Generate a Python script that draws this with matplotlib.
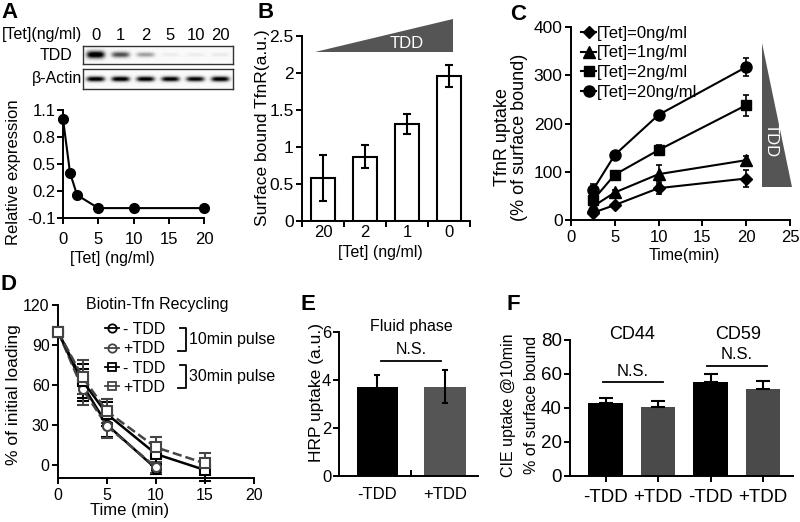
import numpy as np
import matplotlib
matplotlib.use('Agg')
import matplotlib.pyplot as plt
from matplotlib.patches import Polygon
from matplotlib.lines import Line2D
import matplotlib.transforms as mtransforms

plt.rcParams['font.family'] = ['Liberation Sans', 'DejaVu Sans']

# ---------------- data ----------------
# Panel A (blot + quantification)
blot_lanes = ['0', '1', '2', '5', '10', '20']
tdd_band = [1.0, 0.6, 0.32, 0.05, 0.05, 0.06]
actin_band = [0.95, 0.95, 0.93, 0.92, 0.9, 0.95]
tet_conc = [0, 1, 2, 5, 10, 20]
rel_expr = [1.0, 0.4, 0.155, 0.01, 0.01, 0.01]

# Panel B
b_labels = ['20', '2', '1', '0']
b_values = [0.58, 0.87, 1.31, 1.96]
b_err = [0.31, 0.16, 0.13, 0.145]

# Panel C
c_time = [2.5, 5, 10, 20]
c_labels = ['[Tet]=0ng/ml', '[Tet]=1ng/ml', '[Tet]=2ng/ml', '[Tet]=20ng/ml']
c_0ng = [15, 31, 66, 86]
c_0ng_err = [5, 5, 12, 18]
c_1ng = [28, 57, 95, 124]
c_1ng_err = [8, 6, 20, 8]
c_2ng = [41, 94, 145, 238]
c_2ng_err = [8, 8, 10, 22]
c_20ng = [62, 135, 218, 317]
c_20ng_err = [12, 6, 6, 18]

# Panel D
d_time_10 = [0, 2.5, 5, 10]
d_time_30 = [0, 2.5, 5, 10, 15]
d_minus10 = [100, 60, 30, -3]
d_minus10_err = [0, 12, 9, 4]
d_plus10 = [100, 57, 29, -2]
d_plus10_err = [0, 12, 9, 4]
d_minus30 = [100, 63, 38, 8, -4]
d_minus30_err = [0, 13, 9, 8, 8]
d_plus30 = [100, 66, 40, 13, 1]
d_plus30_err = [0, 13, 9, 8, 8]

# Panel E
e_labels = ['-TDD', '+TDD']
e_values = [3.70, 3.72]
e_err = [0.5, 0.68]

# Panel F
f_labels = ['-TDD', '+TDD', '-TDD', '+TDD']
f_groups = ['CD44', 'CD59']
f_values = [43.1, 40.8, 55.5, 51.2]
f_err = [3.0, 3.5, 4.5, 4.7]

# ---------------- helpers ----------------
W, H = 800, 522
fig = plt.figure(figsize=(W / 100, H / 100), dpi=100)


def rect(l, t, r, b):
    return [l / W, 1 - b / H, (r - l) / W, (b - t) / H]


def P(x, y):
    return (x / W, 1 - y / H)


def T(x, y, s, **kw):
    kw.setdefault('ha', 'center')
    kw.setdefault('va', 'center')
    kw.setdefault('fontsize', 12)
    fig.text(x / W, 1 - y / H, s, **kw)


def style(ax, size=12, xpad=4, ypad=2):
    for sp in ['top', 'right']:
        ax.spines[sp].set_visible(False)
    for sp in ['left', 'bottom']:
        ax.spines[sp].set_linewidth(1.4)
    ax.tick_params(width=1.4, length=4, labelsize=size)
    ax.tick_params(axis='x', pad=xpad)
    ax.tick_params(axis='y', pad=ypad)
    ax.patch.set_alpha(0)


ebkw = dict(ecolor='k', elinewidth=1.5, capthick=1.5)

# ---------------- Panel A blot ----------------
xs = np.linspace(0, 6, 300)
ys = np.linspace(0, 1, 40)
X, Y = np.meshgrid(xs, ys)


def blot_image(intens, ycen, base_sig):
    img = np.zeros_like(X)
    for i, v in enumerate(intens):
        xp = np.exp(-((X - (i + 0.5)) / 0.36) ** 4)
        sig = base_sig * (0.6 + 0.6 * v)
        yp = np.exp(-((Y - ycen) / sig) ** 2)
        img += v * xp * yp
    return np.clip(img * 1.15 + 0.02, 0, 1)


axT = fig.add_axes(rect(83, 46, 233, 64))
axT.imshow(blot_image(tdd_band, 0.52, 0.17), cmap='gray_r', vmin=0, vmax=1,
           extent=(0, 6, 0, 1), aspect='auto', origin='lower')
axAc = fig.add_axes(rect(83, 69, 233, 89))
axAc.imshow(blot_image(actin_band, 0.5, 0.11), cmap='gray_r', vmin=0, vmax=1,
            extent=(0, 6, 0, 1), aspect='auto', origin='lower')
for a in (axT, axAc):
    a.set_xticks([])
    a.set_yticks([])
    for sp in a.spines.values():
        sp.set_linewidth(1.0)
        sp.set_color('#333333')
btr = mtransforms.blended_transform_factory(axT.transData, fig.transFigure)
for i, lab in enumerate(blot_lanes):
    axT.text(i + 0.5, 1 - 35 / H, lab, transform=btr, ha='center', va='center', fontsize=12)
T(82, 35, '[Tet](ng/ml)', ha='right', fontsize=11.5)
T(72, 56, 'TDD', ha='right', fontsize=11.5)
T(82, 79, 'β-Actin', ha='right', fontsize=11.5)

# ---------------- Panel A plot ----------------
axA = fig.add_axes(rect(63, 110, 204, 218))
style(axA, size=12, xpad=6, ypad=1.5)
axA.plot(tet_conc, rel_expr, '-o', color='k', ms=7, lw=1.5, clip_on=False, zorder=3)
axA.set_xlim(0, 20)
axA.set_ylim(-0.1, 1.1)
axA.set_xticks([0, 5, 10, 15, 20])
axA.set_yticks([-0.1, 0.2, 0.5, 0.8, 1.1])
axA.set_yticklabels(['-0.1', '0.2', '0.5', '0.8', '1.1'])
T(14, 172, 'Relative expression', rotation=90, fontsize=12)
T(112, 259, '[Tet] (ng/ml)', fontsize=11.5)

# ---------------- Panel B ----------------
axB = fig.add_axes(rect(302, 36, 470, 221))
style(axB, size=12.5)
bx = np.arange(len(b_values)) + 0.5
axB.bar(bx, b_values, width=0.55, color='white', edgecolor='k', linewidth=1.5)
axB.errorbar(bx, b_values, yerr=b_err, fmt='none', capsize=3, **ebkw)
axB.set_xlim(0, 4)
axB.set_ylim(0, 2.5)
axB.set_xticks(bx)
axB.set_xticklabels(b_labels)
axB.set_xticks(np.arange(0, 5), minor=True)
axB.tick_params(axis='x', which='major', length=0, pad=3, labelsize=12)
axB.tick_params(axis='x', which='minor', length=4, width=1.4)
axB.set_yticks([0, 0.5, 1, 1.5, 2, 2.5])
axB.set_yticklabels(['0', '0.5', '1', '1.5', '2', '2.5'])
T(263, 128, 'Surface bound TfnR(a.u.)', rotation=90, fontsize=12.5)
T(380, 252, '[Tet] (ng/ml)', fontsize=11.5)
fig.patches.append(Polygon([P(315, 52), P(453, 19), P(453, 52)], closed=True,
                           transform=fig.transFigure, facecolor='#555555', edgecolor='none'))
T(407, 44, 'TDD', color='white', fontsize=12)

# ---------------- Panel C ----------------
axC = fig.add_axes(rect(571, 27, 790, 220))
style(axC, size=12.5, xpad=3)
axC.tick_params(axis='x', labelsize=12)
c_series = [(c_0ng, c_0ng_err, 'D', 6.5), (c_1ng, c_1ng_err, '^', 8),
            (c_2ng, c_2ng_err, 's', 7.5), (c_20ng, c_20ng_err, 'o', 8)]
handles = []
for (vals, errs, mk, ms), lab in zip(c_series, c_labels):
    axC.errorbar(c_time, vals, yerr=errs, fmt='-' + mk, color='k', ms=ms, lw=1.5,
                 capsize=2, elinewidth=1.2, capthick=1.2, clip_on=False, zorder=3)
    handles.append(Line2D([], [], color='k', marker=mk, ms=ms, lw=1.5))
axC.set_xlim(0, 25)
axC.set_ylim(0, 400)
axC.set_xticks([0, 5, 10, 15, 20, 25])
axC.set_yticks([0, 100, 200, 300, 400])
axC.legend(handles, c_labels, loc='upper left', bbox_to_anchor=P(581, 26),
           bbox_transform=fig.transFigure, frameon=False, fontsize=12,
           handlelength=0.9, handletextpad=0.05, labelspacing=0.27, borderpad=0, borderaxespad=0)
T(511, 137, 'TfnR uptake\n(% of surface bound)', rotation=90, linespacing=1.05, fontsize=13)
T(684, 256, 'Time(min)', fontsize=11.5)
fig.patches.append(Polygon([P(762, 43), P(762, 187), P(792, 187)], closed=True,
                           transform=fig.transFigure, facecolor='#555555', edgecolor='none'))
T(771, 140, 'TDD', color='white', rotation=270, fontsize=12)

# ---------------- Panel D ----------------
axD = fig.add_axes(rect(58, 305, 254, 478))
style(axD, size=11.5, xpad=3)
d_series = [
    (d_time_10, d_minus10, d_minus10_err, 'o', '-', 'k', '- TDD'),
    (d_time_10, d_plus10, d_plus10_err, 'o', '--', '#444444', '+TDD'),
    (d_time_30, d_minus30, d_minus30_err, 's', '-', 'k', '- TDD'),
    (d_time_30, d_plus30, d_plus30_err, 's', '--', '#444444', '+TDD'),
]
dh, dl = [], []
for t, v, e, mk, ls, col, lab in d_series:
    axD.errorbar(t, v, yerr=e, marker=mk, ls=ls, color=col, mfc='white', mec=col,
                 mew=1.5, ms=6.5, lw=1.8, capsize=4, elinewidth=1.4, capthick=1.4,
                 clip_on=False, zorder=3)
    dh.append(Line2D([], [], marker=mk, ls='-', color=col, mfc='none', mec=col, mew=1.3, ms=6, lw=1.3))
    dl.append(lab)
axD.set_xlim(0, 20)
axD.set_ylim(-10, 120)
axD.set_xticks([0, 5, 10, 15, 20])
axD.set_yticks([0, 30, 60, 90, 120])
axD.legend(dh, dl, loc='upper left', bbox_to_anchor=P(105, 322),
           bbox_transform=fig.transFigure, frameon=False, fontsize=11.5,
           handlelength=0.9, handletextpad=0.25, labelspacing=0.27, borderpad=0, borderaxespad=0)
for y0, y1, txt in [(328, 351, '10min pulse'), (365, 388, '30min pulse')]:
    fig.add_artist(Line2D([180 / W, 186 / W, 186 / W, 178 / W],
                          [1 - y0 / H, 1 - y0 / H, 1 - y1 / H, 1 - y1 / H],
                          color='k', lw=1.3, transform=fig.transFigure))
    T(189, (y0 + y1) / 2, txt, ha='left', fontsize=11.5)
T(157, 305, 'Biotin-Tfn Recycling', fontsize=11.5)
T(14, 395, '% of initial loading', rotation=90, fontsize=12.5)
T(130, 511, 'Time (min)', fontsize=12)

# ---------------- Panel E ----------------
axE = fig.add_axes(rect(339, 332, 478, 476))
style(axE, size=12, ypad=1.5)
ex = np.arange(len(e_values))
axE.bar(ex, e_values, width=0.61, color=['#000000', '#555555'])
axE.errorbar(ex, e_values, yerr=e_err, fmt='none', capsize=2, **ebkw)
axE.set_xlim(-0.57, 1.49)
axE.set_ylim(0, 6)
axE.set_xticks(ex)
axE.set_xticklabels(e_labels)
axE.tick_params(axis='x', which='major', length=0, pad=8)
axE.set_xticks([0.5], minor=True)
axE.tick_params(axis='x', which='minor', direction='in', length=4, width=1.4)
axE.set_yticks([0, 2, 4, 6])
axE.plot([0.05, 0.94], [4.8, 4.8], color='k', lw=1.3, clip_on=False)
axE.text(0.5, 5.25, 'N.S.', ha='center', va='center', fontsize=11.5)
T(411, 327, 'Fluid phase', fontsize=11.5)
T(316, 392, 'HRP uptake (a.u.)', rotation=90, fontsize=12.5)

# ---------------- Panel F ----------------
axF = fig.add_axes(rect(570, 340, 793, 476))
style(axF, size=13.5, xpad=5)
fx_ = np.arange(len(f_values))
axF.bar(fx_, f_values, width=0.66, color=['#000000', '#4a4a4a', '#000000', '#4a4a4a'])
axF.errorbar(fx_, f_values, yerr=[[0] * len(f_err), f_err], fmt='none', capsize=5, **ebkw)
axF.set_xlim(-0.676, 3.57)
axF.set_ylim(0, 80)
axF.set_xticks(fx_)
axF.set_xticklabels(f_labels)
axF.set_yticks([0, 20, 40, 60, 80])
axF.plot([-0.05, 1.09], [55.5, 55.5], color='k', lw=1.3, clip_on=False)
axF.text(0.52, 61.6, 'N.S.', ha='center', va='center', fontsize=12)
axF.plot([1.93, 3.07], [64.9, 64.9], color='k', lw=1.3, clip_on=False)
axF.text(2.5, 71.2, 'N.S.', ha='center', va='center', fontsize=12)
axF.text(0.5, 83, f_groups[0], ha='center', va='center', fontsize=13, clip_on=False)
axF.text(2.52, 83, f_groups[1], ha='center', va='center', fontsize=13, clip_on=False)
T(508, 405, 'CIE uptake @10min', rotation=90, fontsize=11.5)
T(531, 405, '% of surface bound', rotation=90, fontsize=11.5)

# ---------------- panel letters ----------------
for x, y, s in [(10, 12, 'A'), (266, 13, 'B'), (518, 15, 'C'), (8, 284, 'D'), (308, 305, 'E'), (513, 305, 'F')]:
    T(x, y, s, fontsize=16, fontweight='bold')

fig.savefig('out.png', dpi=100)
